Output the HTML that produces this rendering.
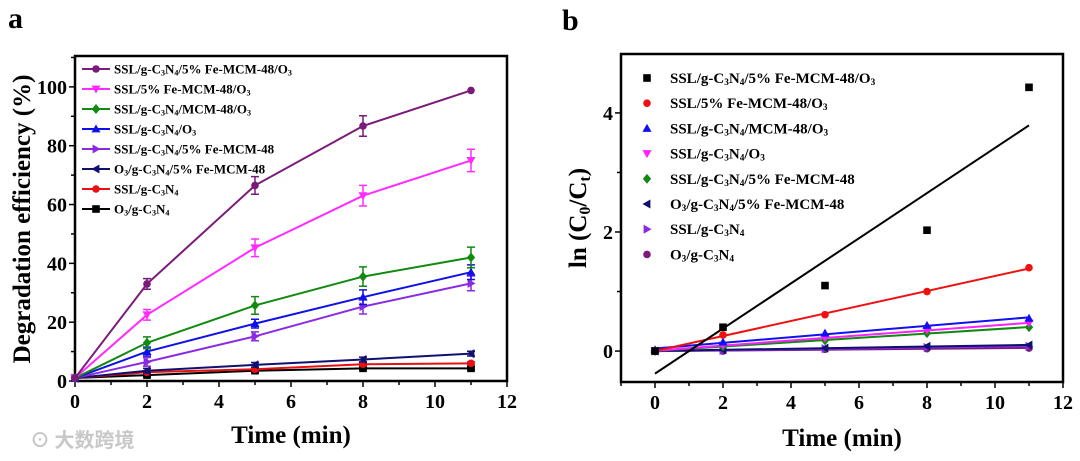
<!DOCTYPE html>
<html><head><meta charset="utf-8"><style>
html,body{margin:0;padding:0;background:#fff;}
svg{display:block;font-family:"Liberation Serif",serif;font-weight:bold;}
</style></head><body>
<svg id="fig" width="1080" height="461" viewBox="0 0 1080 461" xmlns="http://www.w3.org/2000/svg">
<text x="8" y="28" font-size="30">a</text>
<text x="562" y="30" font-size="30">b</text>
<text x="30" y="447" font-size="20" fill="#c8c8c8" font-family="'Noto Sans CJK SC',sans-serif">⊙ 大数跨境</text>
<g id="ga"></g>
<g id="gb"></g>
</svg>
<script>
const NS="http://www.w3.org/2000/svg";
const times=[0,2,5,8,11];
const namesA=["SSL/g-C3N4/5% Fe-MCM-48/O3","SSL/5% Fe-MCM-48/O3","SSL/g-C3N4/MCM-48/O3","SSL/g-C3N4/O3","SSL/g-C3N4/5% Fe-MCM-48","O3/g-C3N4/5% Fe-MCM-48","SSL/g-C3N4","O3/g-C3N4"];
const colorsA=["#7b1a7b","#ff2bff","#108a10","#1010e8","#8a2be2","#101070","#e81010","#000000"];
const markersA=["circle","tridown","diamond","triup","triright","trileft","circle","square"];
const effPurple=[1,33,66.5,86.7,98.8];
const effMagenta=[1,22.5,45.3,63,75];
const effGreen=[1,13,25.7,35.5,42];
const effBlue=[1,10,19.5,28.5,37];
const effViolet=[1,6.5,15.2,25.3,33.2];
const effNavy=[1,3.5,5.5,7.3,9.3];
const effRed=[1,3,4,5.7,6];
const effBlack=[1,2,3.5,4.3,4.3];
const errPurple=[0,1.8,3,3.5,0];
const errMagenta=[0,1.8,3,3.5,3.8];
const errGreen=[0,2,3,3.3,3.5];
const errBlue=[0,1.5,1.5,2.5,2.5];
const errViolet=[0,1.5,1.5,2.5,2.5];
const errNavy=[0,0.8,0.8,0.8,0.8];
const errRed=[0,0.5,0.5,0.5,0.5];
const errBlack=[0,0.5,0.5,0.5,0.5];
const xTicksA=[0,2,4,6,8,10,12];
const yTicksA=[0,20,40,60,80,100];
const namesB=["SSL/g-C3N4/5% Fe-MCM-48/O3","SSL/5% Fe-MCM-48/O3","SSL/g-C3N4/MCM-48/O3","SSL/g-C3N4/O3","SSL/g-C3N4/5% Fe-MCM-48","O3/g-C3N4/5% Fe-MCM-48","SSL/g-C3N4","O3/g-C3N4"];
const colorsB=["#000000","#f01010","#1010f0","#ff20ff","#108a10","#101070","#8a2be2","#7b1a7b"];
const markersB=["square","circle","triup","tridown","diamond","trileft","triright","circle"];
const lnBlack=[0,0.4,1.1,2.03,4.43];
const lnRed=[0,0.27,0.61,1.0,1.4];
const lnBlue=[0.02,0.15,0.3,0.43,0.55];
const lnMagenta=[0,0.1,0.22,0.35,0.47];
const lnGreen=[0,0.08,0.18,0.3,0.4];
const lnNavy=[0,0.02,0.05,0.08,0.1];
const lnViolet=[0,0.01,0.04,0.06,0.08];
const lnPurple=[0,0,0.03,0.04,0.05];
const xTicksB=[0,2,4,6,8,10,12];
const yTicksB=[0,2,4];

const effA=[effPurple,effMagenta,effGreen,effBlue,effViolet,effNavy,effRed,effBlack];
const errA=[errPurple,errMagenta,errGreen,errBlue,errViolet,errNavy,errRed,errBlack];
const lnB=[lnBlack,lnRed,lnBlue,lnMagenta,lnGreen,lnNavy,lnViolet,lnPurple];

function mk(tag,attrs,parent){const e=document.createElementNS(NS,tag);for(const k in attrs)e.setAttribute(k,attrs[k]);parent.appendChild(e);return e;}
function marker(g,type,x,y,s,c){
  let e;
  if(type==="circle")e=mk("circle",{cx:x,cy:y,r:s},g);
  else if(type==="square")e=mk("rect",{x:x-s,y:y-s,width:2*s,height:2*s},g);
  else{let p;
    if(type==="diamond")p=[[x,y-s*1.3],[x+s*1.1,y],[x,y+s*1.3],[x-s*1.1,y]];
    else if(type==="triup")p=[[x,y-s*1.2],[x+s*1.2,y+s*0.9],[x-s*1.2,y+s*0.9]];
    else if(type==="tridown")p=[[x,y+s*1.2],[x+s*1.2,y-s*0.9],[x-s*1.2,y-s*0.9]];
    else if(type==="triright")p=[[x+s*1.2,y],[x-s*0.9,y-s*1.2],[x-s*0.9,y+s*1.2]];
    else p=[[x-s*1.2,y],[x+s*0.9,y-s*1.2],[x+s*0.9,y+s*1.2]];
    e=mk("polygon",{points:p.map(q=>q.join(",")).join(" ")},g);}
  e.setAttribute("fill",c);
  return e;
}
function label(g,x,y,name,fs){
  const t=mk("text",{x:x,y:y,"font-size":fs},g);
  const parts=name.split(/(?<=[CNO])(\d)/);
  parts.forEach((p,i)=>{const ts=mk("tspan",{},t);
    if(i%2===1){ts.setAttribute("baseline-shift","-25%");ts.setAttribute("font-size",fs*0.62);}
    ts.textContent=p;});
  return t;
}
function axes(g,L,R,T,B,sx,sy,xt,yt,xMin,xMax,yMin,yMax,tf,fs){
  mk("rect",{x:L,y:T,width:R-L,height:B-T,fill:"none",stroke:"#000","stroke-width":2.5},g);
  for(let v=Math.ceil(xMin);v<=xMax;v++){const x=sx(v);const major=xt.includes(v);
    mk("line",{x1:x,y1:B,x2:x,y2:B+(major?6:4),stroke:"#000","stroke-width":1.5},g);}
  xt.forEach(v=>{const t=mk("text",{x:sx(v),y:B+27,"text-anchor":"middle","font-size":fs},g);t.textContent=v;
    });
  for(let v=yMin;v<=yMax+1e-9;v+=tf){const y=sy(v);const major=yt.some(q=>Math.abs(q-v)<1e-9);
    mk("line",{x1:L,y1:y,x2:L-(major?6:4),y2:y,stroke:"#000","stroke-width":1.5},g);}
  yt.forEach(v=>{const t=mk("text",{x:L-8,y:sy(v)+7,"text-anchor":"end","font-size":fs},g);t.textContent=v;
    });
}

(function(){
const g=document.getElementById("ga");
const L=75,R=507,T=56,B=381;
const sx=v=>L+(v-0)/12*(R-L);
const sy=v=>B-(v-0)/110.5*(B-T);
axes(g,L,R,T,B,sx,sy,xTicksA,yTicksA,0,12,0,110,10,20);
const xt=mk("text",{x:291,y:443,"text-anchor":"middle","font-size":25},g);xt.textContent="Time (min)";

const yt=mk("text",{x:0,y:0,transform:"translate(30,219) rotate(-90)","text-anchor":"middle","font-size":25},g);yt.textContent="Degradation efficiency (%)";

for(let s=effA.length-1;s>=0;s--){
  const sg=mk("g",{},g);
  
  
  const c=colorsA[s];
  mk("polyline",{points:times.map((t,i)=>sx(t)+","+sy(effA[s][i])).join(" "),fill:"none",stroke:c,"stroke-width":2},sg);
  times.forEach((t,i)=>{const e=errA[s][i];if(e>0){const x=sx(t);
    mk("path",{d:`M${x},${sy(effA[s][i]-e)}V${sy(effA[s][i]+e)}M${x-4},${sy(effA[s][i]-e)}h8M${x-4},${sy(effA[s][i]+e)}h8`,stroke:c,"stroke-width":1.5,fill:"none"},sg);}
    const m=marker(sg,markersA[s],sx(t),sy(effA[s][i]),3.8,c);
    
    });
}
const lg=mk("g",{},g);


namesA.forEach((n,i)=>{const y=69+i*20;
  mk("line",{x1:82,y1:y,x2:110,y2:y,stroke:colorsA[i],"stroke-width":2},lg);
  marker(lg,markersA[i],96,y,3.8,colorsA[i]);
  const t=label(lg,114,y+4.5,n,13);
  
  });
})();

(function(){
const g=document.getElementById("gb");
const L=621,R=1063,T=54,B=382;
const sx=v=>L+(v+1)/13*(R-L);
const sy=v=>B-(v+0.52)/5.51*(B-T);
axes(g,L,R,T,B,sx,sy,xTicksB,yTicksB,-1,12,0,4,1,20);
const xt=mk("text",{x:842,y:446,"text-anchor":"middle","font-size":25},g);xt.textContent="Time (min)";

const yt=mk("text",{x:0,y:0,transform:"translate(586,218) rotate(-90)","text-anchor":"middle","font-size":25},g);

[["ln (C",0],["0",1],["/C",0],["t",1],[")",0]].forEach(p=>{const ts=mk("tspan",{},yt);ts.textContent=p[0];if(p[1]){ts.setAttribute("baseline-shift","-25%");ts.setAttribute("font-size",16);}});
for(let s=lnB.length-1;s>=0;s--){
  const sg=mk("g",{},g);
  
  
  const c=colorsB[s],ys=lnB[s];
  const mx=times.reduce((a,b)=>a+b,0)/times.length,my=ys.reduce((a,b)=>a+b,0)/ys.length;
  let sxx=0,sxy=0;times.forEach((t,i)=>{sxx+=(t-mx)**2;sxy+=(t-mx)*(ys[i]-my);});
  const k=sxy/sxx,b0=my-k*mx;
  mk("line",{x1:sx(0),y1:sy(b0),x2:sx(11),y2:sy(b0+k*11),stroke:c,"stroke-width":2},sg);
  times.forEach((t,i)=>{const m=marker(sg,markersB[s],sx(t),sy(ys[i]),3.8,c);
    
    });
}
const lg=mk("g",{},g);


namesB.forEach((n,i)=>{const y=78+i*25.2;
  marker(lg,markersB[i],647,y,3.8,colorsB[i]);
  const t=label(lg,670,y+5,n,15);
  
  });
})();
</script>
</body></html>
